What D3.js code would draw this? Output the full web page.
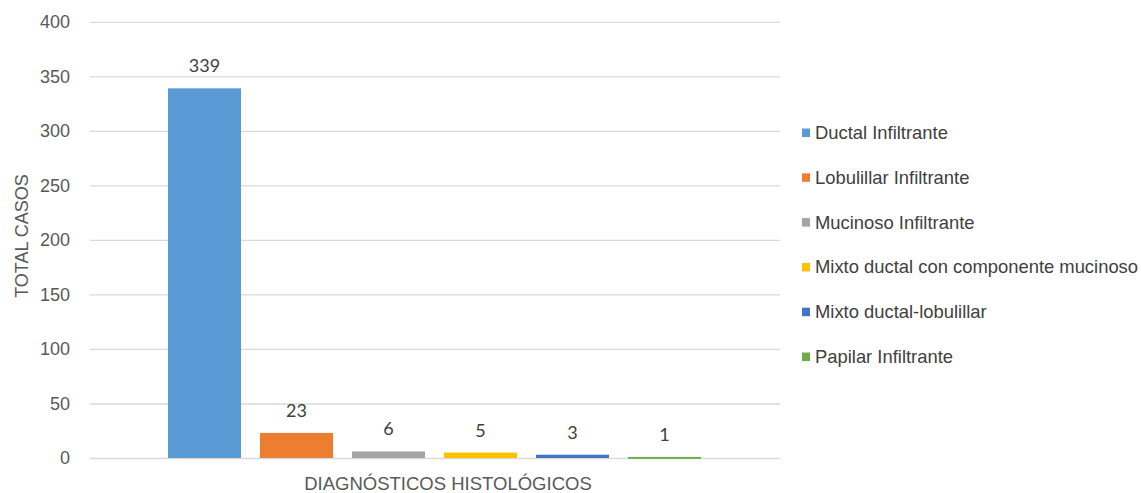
<!DOCTYPE html>
<html><head><meta charset="utf-8">
<script src="https://cdn.jsdelivr.net/npm/d3@7"></script>
<style>body{margin:0;background:#fff}svg{display:block}</style>
</head><body>
<svg id="c" width="1141" height="493"></svg>
<script>
const categories = ["Ductal Infiltrante","Lobulillar Infiltrante","Mucinoso Infiltrante","Mixto ductal con componente mucinoso","Mixto ductal-lobulillar","Papilar Infiltrante"];
const values = [339, 23, 6, 5, 3, 1];
const colors = ["#5B9BD5","#ED7D31","#A5A5A5","#FFC000","#4472C4","#70AD47"];
const yTicks = [0,50,100,150,200,250,300,350,400];
const xTitle = "DIAGNÓSTICOS HISTOLÓGICOS";
const yTitle = "TOTAL CASOS";

const svg = d3.select("#c");
const mLeft = 90, mRight = 780, mTop = 21.8, mBottom = 458;
const y = d3.scaleLinear().domain([0,400]).range([mBottom, mTop]);
const xb = d3.scaleBand().domain(categories).range([168, 701]).paddingInner(19/92).paddingOuter(0);

const yAxis = d3.axisLeft(y).tickValues(yTicks).tickSize(-(mRight-mLeft)).tickPadding(20);
const g = svg.append("g").attr("transform",`translate(${mLeft},0)`).call(yAxis);
g.select(".domain").remove();
g.selectAll(".tick line").attr("stroke","#d9d9d9").attr("stroke-width",1.3);
g.selectAll(".tick text").attr("fill","#595959").attr("font-family","Liberation Sans, Arial, sans-serif").attr("font-size",18).attr("x",-20);

svg.append("g").selectAll("rect").data(values).join("rect")
  .attr("x",(d,i)=>xb(categories[i]))
  .attr("width",xb.bandwidth())
  .attr("y",d=>y(d))
  .attr("height",d=>Math.max(2, y(0)-y(d)))
  .attr("fill",(d,i)=>colors[i]);

svg.append("g").selectAll("text").data(values).join("text")
  .attr("x",(d,i)=>xb(categories[i])+xb.bandwidth()/2)
  .attr("y",d=>y(d)-16)
  .attr("text-anchor","middle")
  .attr("font-family","Lato, sans-serif")
  .attr("font-size",18)
  .attr("fill","#404040")
  .text(d=>d);

svg.append("text").attr("x",448).attr("y",490).attr("text-anchor","middle")
  .attr("font-family","Liberation Sans, Arial, sans-serif").attr("font-size",18.5).attr("fill","#595959").text(xTitle);
svg.append("text").attr("transform","translate(28,236) rotate(-90)").attr("text-anchor","middle")
  .attr("font-family","Liberation Sans, Arial, sans-serif").attr("font-size",18).attr("fill","#595959").text(yTitle);

const lg = svg.append("g").selectAll("g").data(categories).join("g")
  .attr("transform",(d,i)=>`translate(802,${139 + i*44.8})`);
lg.append("rect").attr("x",0).attr("y",-10.5).attr("width",8).attr("height",8.5).attr("fill",(d,i)=>colors[i]);
lg.append("text").attr("x",13).attr("y",0)
  .attr("font-family","Liberation Sans, Arial, sans-serif").attr("font-size",18.4).attr("fill","#404040")
  .text(d=>d);
</script>
</body></html>
